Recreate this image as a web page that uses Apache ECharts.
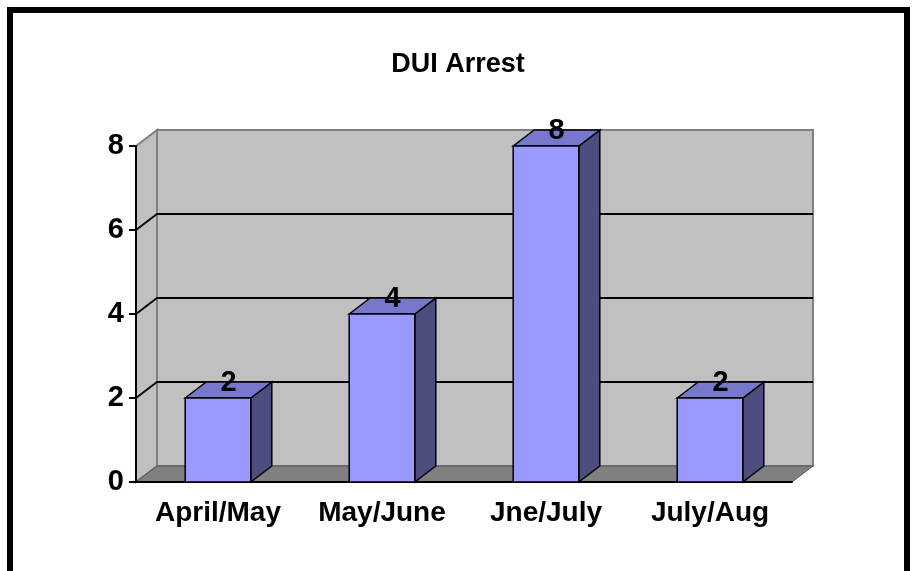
<!DOCTYPE html>
<html>
<head>
<meta charset="utf-8">
<script src="https://cdn.jsdelivr.net/npm/echarts@6/dist/echarts.min.js"></script>
<style>
  html, body { margin: 0; padding: 0; background: #fff; }
  #chart { width: 916px; height: 571px; }
</style>
</head>
<body>
<div id="chart"></div>
<script>
const categories = ['April/May', 'May/June', 'Jne/July', 'July/Aug']
const arrests = [2, 4, 8, 2]
const yTicks = [0, 2, 4, 6, 8]

// 3D depth offset of the walls and the bars
const DX = 21
const DY = -16
const FONT = 'Liberation Sans, Arial, sans-serif'

const chart = echarts.init(document.getElementById('chart'))

// back wall, left wall, floor and grid lines
const renderWalls = (params, api) => {
	const cs = params.coordSys
	const x0 = cs.x, x1 = cs.x + cs.width
	const y0 = cs.y, y1 = cs.y + cs.height
	const children = [
		{
			type: 'polygon',
			shape: { points: [[x0 + DX, y0 + DY], [x1 + DX, y0 + DY], [x1 + DX, y1 + DY], [x0 + DX, y1 + DY]] },
			style: { fill: '#c0c0c0', stroke: '#808080', lineWidth: 2 }
		},
		{
			type: 'polygon',
			shape: { points: [[x0, y0], [x0 + DX, y0 + DY], [x0 + DX, y1 + DY], [x0, y1]] },
			style: { fill: '#c0c0c0', stroke: '#808080', lineWidth: 2 }
		},
		{
			type: 'polygon',
			shape: { points: [[x0, y1], [x1, y1], [x1 + DX, y1 + DY], [x0 + DX, y1 + DY]] },
			style: { fill: '#808080', stroke: '#555', lineWidth: 1 }
		}
	]
	yTicks.forEach(v => {
		if (v === 0 || v === yTicks[yTicks.length - 1]) return
		const y = api.coord([0, v])[1]
		children.push({
			type: 'polyline',
			shape: { points: [[x0, y], [x0 + DX, y + DY], [x1 + DX, y + DY]] },
			style: { stroke: '#000', lineWidth: 1.8, fill: null }
		})
	})
	return { type: 'group', children }
}

// one 3D box per category
const renderBar = (params, api) => {
	const top = api.coord([api.value(0), api.value(1)])
	const bot = api.coord([api.value(0), 0])
	const w = api.size([1, 0])[0] * 0.4
	const l = top[0] - w / 2, r = top[0] + w / 2
	const t = top[1], b = bot[1]
	const edge = { stroke: '#000', lineWidth: 1.5 }
	return {
		type: 'group',
		children: [
			{
				type: 'polygon',
				shape: { points: [[r, t], [r + DX, t + DY], [r + DX, b + DY], [r, b]] },
				style: Object.assign({ fill: '#4d4d80' }, edge)
			},
			{
				type: 'polygon',
				shape: { points: [[l, t], [l + DX, t + DY], [r + DX, t + DY], [r, t]] },
				style: Object.assign({ fill: '#7777cc' }, edge)
			},
			{
				type: 'rect',
				shape: { x: l, y: t, width: w, height: b - t },
				style: Object.assign({ fill: '#9999ff' }, edge)
			},
			{
				type: 'text',
				style: {
					text: String(api.value(1)),
					x: top[0] + DX / 2,
					y: t - 15,
					align: 'center',
					verticalAlign: 'middle',
					font: 'bold 29px ' + FONT,
					fill: '#000'
				}
			}
		]
	}
}

chart.setOption({
	backgroundColor: '#fff',
	animation: false,
	title: {
		text: 'DUI Arrest',
		left: 'center',
		top: 46,
		textStyle: { fontFamily: FONT, fontWeight: 'bold', fontSize: 27, color: '#000' }
	},
	graphic: [
		{
			type: 'rect',
			shape: { x: 10, y: 10, width: 897, height: 700 },
			style: { fill: null, stroke: '#000', lineWidth: 6 },
			z: 100
		}
	],
	grid: { left: 136, right: 124, top: 146, bottom: 89 },
	xAxis: {
		type: 'category',
		data: categories,
		axisLine: { lineStyle: { color: '#000', width: 2 } },
		axisTick: { length: 7, lineStyle: { color: '#000', width: 2 } },
		axisLabel: { interval: 0, hideOverlap: false, margin: 17, fontFamily: FONT, fontWeight: 'bold', fontSize: 28, color: '#000' },
		splitLine: { show: false }
	},
	yAxis: {
		type: 'value',
		min: 0,
		max: 8,
		interval: 2,
		axisLine: { show: true, lineStyle: { color: '#000', width: 2 } },
		axisTick: { show: true, length: 7, lineStyle: { color: '#000', width: 2 } },
		axisLabel: { margin: 12, fontFamily: FONT, fontWeight: 'bold', fontSize: 29, color: '#000' },
		splitLine: { show: false }
	},
	series: [
		{
			type: 'custom',
			z: -1,
			silent: true,
			renderItem: renderWalls,
			data: [[0, 0]]
		},
		{
			type: 'custom',
			renderItem: renderBar,
			encode: { x: 0, y: 1 },
			data: categories.map((c, i) => [i, arrests[i]])
		}
	]
})
</script>
</body>
</html>
